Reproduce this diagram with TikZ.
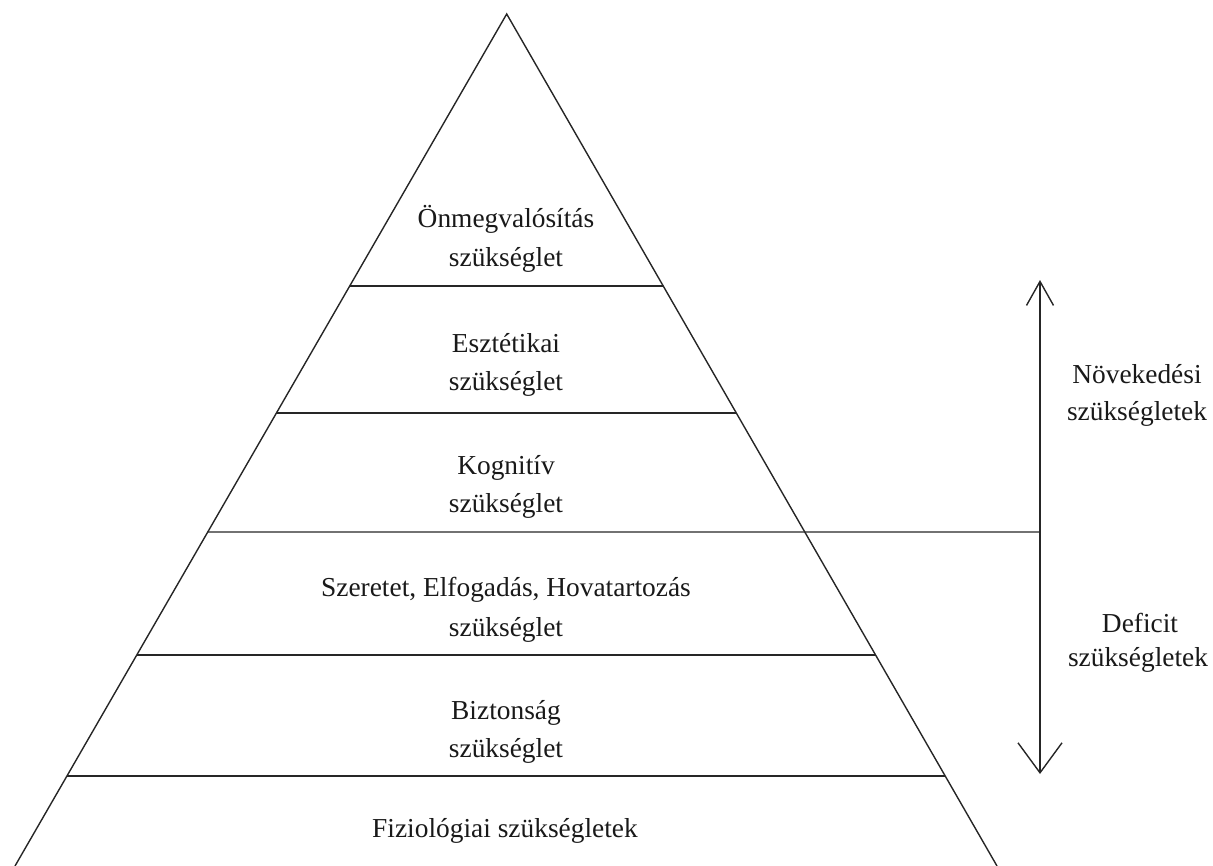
\documentclass[tikz,border=0pt]{standalone}
\usepackage{fontspec}
\setmainfont{Liberation Serif}
\usetikzlibrary{calc,arrows.meta}
\begin{document}
\begin{tikzpicture}[x=1bp,y=-1bp,
  edge/.style={line width=1.4bp,black!85},
  lbl/.style={anchor=base,inner sep=0pt,font=\fontsize{27.5}{36}\selectfont,text=black!90}]
\useasboundingbox (0,0) rectangle (1213,866);
\coordinate (apex) at (506.7,14);
\coordinate (bl) at (15,866);
\coordinate (br) at (997,866);
\draw[edge] (bl) -- (apex) -- (br);
% level lines
\foreach \y/\n in {286/a,413/b,532/c,655/d,776/e}{
  \pgfmathsetmacro{\t}{(\y-14)/852}
  \coordinate (L\n) at ($(apex)!\t!(bl)$);
  \coordinate (R\n) at ($(apex)!\t!(br)$);
}
\coordinate (split) at (1040,532);
\draw[edge] (La) -- (Ra);
\draw[edge] (Lb) -- (Rb);
\draw[edge] (Lc) -- (split);
\draw[edge] (Ld) -- (Rd);
\draw[edge] (Le) -- (Re);
% arrow
\coordinate (atop) at (1040,280);
\coordinate (abot) at (1040,774);
\draw[edge,{Straight Barb[length=24bp,width=27bp,line width=1.4bp]}-{Straight Barb[length=30bp,width=44bp,line width=1.4bp]}] (atop) -- (abot);
% labels
\node[lbl] (t1a) at (506,227) {Önmegvalósítás};
\node[lbl] (t1b) at (506,266) {szükséglet};
\node[lbl] (t2a) at (506,352) {Esztétikai};
\node[lbl] (t2b) at (506,390) {szükséglet};
\node[lbl] (t3a) at (506,474) {Kognitív};
\node[lbl] (t3b) at (506,512) {szükséglet};
\node[lbl] (t4a) at (506,596) {Szeretet, Elfogadás, Hovatartozás};
\node[lbl] (t4b) at (506,636) {szükséglet};
\node[lbl] (t5a) at (506,719) {Biztonság};
\node[lbl] (t5b) at (506,757) {szükséglet};
\node[lbl] (t6) at (505,837) {Fiziológiai szükségletek};
\node[lbl] (g1) at (1137,383) {Növekedési};
\node[lbl] (g2) at (1137,420) {szükségletek};
\node[lbl] (d1) at (1140,632) {Deficit};
\node[lbl] (d2) at (1138,666) {szükségletek};
\end{tikzpicture}
\end{document}
